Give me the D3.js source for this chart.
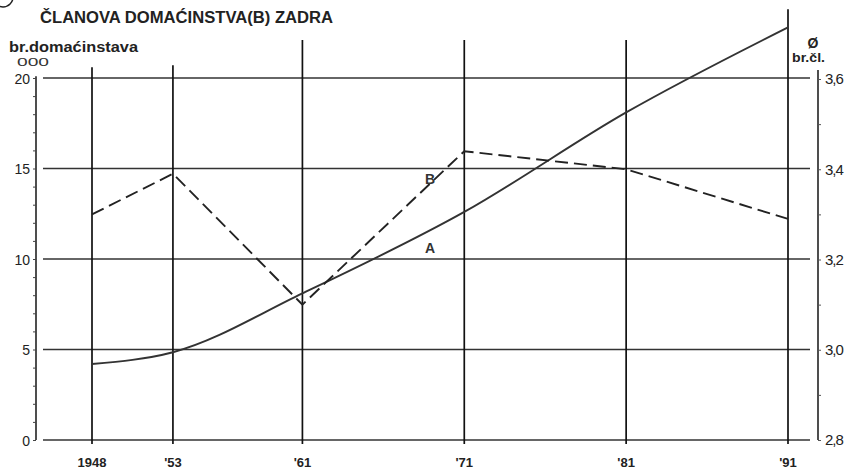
<!DOCTYPE html>
<html><head><meta charset="utf-8">
<script src="https://cdn.jsdelivr.net/npm/d3@7"></script>
<style>
body{margin:0;background:#fff;}
svg{display:block;font-family:"Liberation Sans",Arial,sans-serif;}
</style></head>
<body>
<svg id="c" width="853" height="469"></svg>
<script>
// ---- data ----
const years = [1948, 1953, 1961, 1971, 1981, 1991];
const yearLabels = ["1948", "'53", "'61", "'71", "'81", "'91"];
const households = [4.2, 4.85, 8.1, 12.6, 18.1, 22.8];      // A, thousands
const membersPerHousehold = [3.30, 3.39, 3.10, 3.44, 3.40, 3.29]; // B
const leftTicks = [0, 5, 10, 15, 20];
const rightTicks = [2.8, 3.0, 3.2, 3.4, 3.6];
const rightTickLabels = ["2,8", "3,0", "3,2", "3,4", "3,6"];
const title = "ČLANOVA DOMAĆINSTVA(B) ZADRA";

// ---- layout ----
const svg = d3.select("#c");
const x = d3.scaleLinear().domain([1948, 1991]).range([92, 788]);
const yL = d3.scaleLinear().domain([0, 20]).range([440, 78]);
const yR = d3.scaleLinear().domain([2.8, 3.6]).range([440, 79]);
const gridX0 = 43, gridX1 = 810, axisL = 36, axisR = 818;
const vTopUnits = [20.6, 20.7, 22.1, 22.1, 22.1, 23.8]; // vertical line tops (left-axis units)

// partial circle top-left
svg.append("circle").attr("cx", 3).attr("cy", -3).attr("r", 10)
  .attr("fill", "none").attr("stroke", "#222").attr("stroke-width", 1.5);

svg.append("text").attr("x", 40).attr("y", 23).text(title)
  .attr("font-size", 16).attr("font-weight", "bold").attr("fill", "#222")
  .attr("textLength", 293).attr("lengthAdjust", "spacingAndGlyphs");

svg.append("text").attr("x", 9).attr("y", 52).text("br.domaćinstava")
  .attr("font-size", 14.5).attr("font-weight", "bold").attr("fill", "#222")
  .attr("textLength", 129).attr("lengthAdjust", "spacingAndGlyphs");
svg.append("text").attr("x", 17).attr("y", 66).text("000")
  .attr("font-size", 11).attr("fill", "#333")
  .attr("textLength", 32).attr("lengthAdjust", "spacingAndGlyphs");

svg.append("text").attr("x", 813).attr("y", 48).text("Ø").attr("text-anchor", "middle")
  .attr("font-size", 14).attr("font-weight", "bold").attr("fill", "#222");
svg.append("text").attr("x", 792).attr("y", 62).text("br.čl.")
  .attr("font-size", 13).attr("font-weight", "bold").attr("fill", "#222")
  .attr("textLength", 33).attr("lengthAdjust", "spacingAndGlyphs");

// horizontal gridlines
svg.append("g").selectAll("line").data(leftTicks).join("line")
  .attr("x1", gridX0).attr("x2", gridX1)
  .attr("y1", d => yL(d)).attr("y2", d => yL(d))
  .attr("stroke", "#333").attr("stroke-width", 1.4);

// vertical year lines
svg.append("g").selectAll("line").data(years).join("line")
  .attr("x1", d => x(d)).attr("x2", d => x(d))
  .attr("y1", (d, i) => yL(vTopUnits[i])).attr("y2", 444)
  .attr("stroke", "#111").attr("stroke-width", 1.7);

// left axis
const gL = svg.append("g").attr("transform", `translate(${axisL},0)`);
gL.call(d3.axisLeft(yL).tickValues(d3.range(0, 21, 1)).tickSize(3).tickFormat(""));
gL.select(".domain").attr("stroke", "#222").attr("stroke-width", 1.6).attr("d", `M-0,${yL(20.1)}V${yL(0)}`);
gL.selectAll(".tick line").attr("stroke", "#444");
gL.selectAll(".lbl").data(leftTicks).join("text").attr("class", "lbl")
  .attr("x", -6).attr("y", d => yL(d)).attr("dy", "0.4em")
  .attr("text-anchor", "end").attr("font-size", 14).attr("fill", "#222").text(d => d);

// right axis
const gR = svg.append("g").attr("transform", `translate(${axisR},0)`);
gR.call(d3.axisRight(yR).tickValues(d3.range(28, 37, 1).map(v => v / 10)).tickSize(3).tickFormat(""));
gR.select(".domain").attr("stroke", "#222").attr("stroke-width", 1.6).attr("d", `M0,${yR(3.62)}V${yR(2.8)}`);
gR.selectAll(".tick line").attr("stroke", "#555");
gR.selectAll(".lbl").data(rightTicks).join("text").attr("class", "lbl")
  .attr("x", 7).attr("y", d => yR(d)).attr("dy", "0.36em")
  .attr("font-size", 15).attr("fill", "#222").attr("letter-spacing", "-1")
  .text((d, i) => rightTickLabels[i]);

// x labels
svg.append("g").selectAll("text").data(years).join("text")
  .attr("x", d => x(d)).attr("y", 467).attr("text-anchor", "middle")
  .attr("font-size", 13).attr("font-weight", "bold").attr("fill", "#222")
  .text((d, i) => yearLabels[i]);

// series A (solid)
const lineA = d3.line().x((d, i) => x(years[i])).y(d => yL(d)).curve(d3.curveMonotoneX);
svg.append("path").datum(households).attr("d", lineA)
  .attr("fill", "none").attr("stroke", "#333").attr("stroke-width", 1.9);

// series B (dashed)
const lineB = d3.line().x((d, i) => x(years[i])).y(d => yR(d));
svg.append("path").datum(membersPerHousehold).attr("d", lineB)
  .attr("fill", "none").attr("stroke", "#222").attr("stroke-width", 1.9)
  .attr("stroke-dasharray", "13,6");

// series labels
svg.append("text").attr("x", 430).attr("y", 253).attr("text-anchor", "middle")
  .attr("font-size", 14).attr("font-weight", "bold").attr("fill", "#333").text("A");
svg.append("text").attr("x", 430).attr("y", 184).attr("text-anchor", "middle")
  .attr("font-size", 14).attr("font-weight", "bold").attr("fill", "#333").text("B");
</script>
</body></html>
